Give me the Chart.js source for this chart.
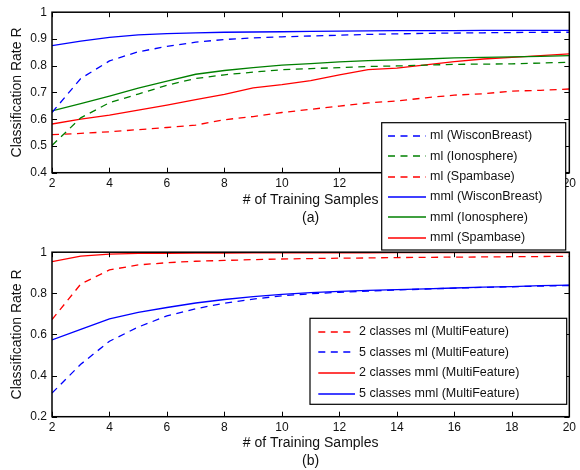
<!DOCTYPE html>
<html>
<head>
<meta charset="utf-8">
<script src="https://cdn.jsdelivr.net/npm/chart.js@4.4.1/dist/chart.umd.min.js"></script>
<style>
  html, body { margin: 0; padding: 0; background: #fff; }
  #wrap { position: relative; width: 580px; height: 470px; overflow: hidden; background: #fff; }
  #wrap canvas { position: absolute; left: 0; }
  #chartA { top: 0; z-index: 2; }
  #chartB { top: 240px; z-index: 1; }
</style>
</head>
<body>
<div id="wrap">
  <canvas id="chartB" width="580" height="230"></canvas>
  <canvas id="chartA" width="580" height="260"></canvas>
</div>
<script>
// Number of training samples (shared x values)
const samples = [2, 3, 4, 5, 6, 7, 8, 9, 10, 11, 12, 13, 14, 15, 16, 17, 18, 19, 20];

// Tick values
const xTicks = [2, 4, 6, 8, 10, 12, 14, 16, 18, 20];
const yTicksA = [0.4, 0.5, 0.6, 0.7, 0.8, 0.9, 1];
const yTicksB = [0.2, 0.4, 0.6, 0.8, 1];

// (a) classification rate per dataset
const mlWiscon   = [0.625, 0.752, 0.818, 0.852, 0.872, 0.888, 0.898, 0.904, 0.908, 0.911, 0.914, 0.917, 0.919, 0.921, 0.922, 0.923, 0.924, 0.925, 0.925];
const mlIono     = [0.502, 0.605, 0.662, 0.694, 0.727, 0.752, 0.766, 0.776, 0.785, 0.789, 0.793, 0.797, 0.799, 0.802, 0.805, 0.806, 0.807, 0.810, 0.813];
const mlSpam     = [0.542, 0.547, 0.553, 0.561, 0.569, 0.578, 0.598, 0.610, 0.625, 0.637, 0.649, 0.661, 0.668, 0.680, 0.690, 0.695, 0.705, 0.708, 0.713];
const mmlWiscon  = [0.875, 0.892, 0.906, 0.915, 0.920, 0.923, 0.925, 0.926, 0.927, 0.928, 0.929, 0.930, 0.931, 0.931, 0.931, 0.932, 0.932, 0.932, 0.932];
const mmlIono    = [0.631, 0.658, 0.686, 0.716, 0.742, 0.768, 0.782, 0.793, 0.802, 0.808, 0.814, 0.819, 0.822, 0.825, 0.829, 0.831, 0.833, 0.835, 0.838];
const mmlSpam    = [0.582, 0.600, 0.615, 0.634, 0.653, 0.673, 0.693, 0.717, 0.729, 0.744, 0.766, 0.785, 0.791, 0.803, 0.815, 0.825, 0.831, 0.838, 0.844];

// (b) MultiFeature, 2 and 5 classes
const ml2  = [0.672, 0.845, 0.914, 0.938, 0.949, 0.956, 0.960, 0.964, 0.967, 0.969, 0.971, 0.972, 0.974, 0.975, 0.976, 0.977, 0.978, 0.979, 0.980];
const ml5  = [0.315, 0.455, 0.567, 0.636, 0.690, 0.725, 0.752, 0.772, 0.788, 0.798, 0.805, 0.811, 0.816, 0.821, 0.825, 0.829, 0.832, 0.835, 0.838];
const mml2 = [0.954, 0.981, 0.991, 0.994, 0.995, 0.996, 0.996, 0.997, 0.997, 0.997, 0.997, 0.997, 0.998, 0.998, 0.998, 0.998, 0.998, 0.998, 0.998];
const mml5 = [0.573, 0.625, 0.676, 0.707, 0.731, 0.753, 0.770, 0.784, 0.795, 0.803, 0.809, 0.814, 0.818, 0.822, 0.826, 0.830, 0.833, 0.837, 0.840];

const BLUE = '#0000ff', GREEN = '#008000', RED = '#ff0000';
const DASH = [7, 5.5];
const FONT = '"Liberation Sans", Arial, Helvetica, sans-serif';

const pts = vals => samples.map((s, i) => ({ x: s, y: vals[i] }));
const series = (label, vals, color, dashed) => ({
  label, data: pts(vals),
  borderColor: color, backgroundColor: color,
  borderWidth: 1.3, borderDash: dashed ? DASH : [],
  pointRadius: 0, tension: 0, fill: false,
  legendColor: color, legendDashed: dashed
});

// Boxed axes with inward tick marks on all four sides
const framePlugin = {
  id: 'frame',
  afterDatasetsDraw(chart) {
    const { ctx, chartArea: a, scales: { x, y } } = chart;
    const len = 5;
    ctx.save();
    ctx.setLineDash([]);
    ctx.strokeStyle = '#000';
    ctx.lineWidth = 1;
    ctx.beginPath();
    x.ticks.forEach(t => {
      const px = Math.round(x.getPixelForValue(t.value)) + 0.5;
      ctx.moveTo(px, a.bottom); ctx.lineTo(px, a.bottom - len);
      ctx.moveTo(px, a.top); ctx.lineTo(px, a.top + len);
    });
    y.ticks.forEach(t => {
      const py = Math.round(y.getPixelForValue(t.value)) + 0.5;
      ctx.moveTo(a.left, py); ctx.lineTo(a.left + len, py);
      ctx.moveTo(a.right, py); ctx.lineTo(a.right - len, py);
    });
    ctx.stroke();
    ctx.lineWidth = 1.5;
    ctx.strokeRect(a.left, a.top, a.right - a.left, a.bottom - a.top);
    ctx.restore();
  }
};

// Boxed legend listing each dataset with its line style
const boxLegendPlugin = {
  id: 'boxLegend',
  afterDraw(chart, args, o) {
    const { ctx } = chart;
    ctx.save();
    ctx.setLineDash([]);
    ctx.fillStyle = '#fff';
    ctx.fillRect(o.left, o.top, o.width, o.height);
    ctx.strokeStyle = '#000';
    ctx.lineWidth = 1.2;
    ctx.strokeRect(o.left, o.top, o.width, o.height);
    ctx.font = o.fontSize + 'px ' + FONT;
    ctx.textBaseline = 'middle';
    ctx.textAlign = 'left';
    const entries = chart.data.datasets.map(ds => ({
      label: ds.label, color: ds.legendColor, dashed: ds.legendDashed
    }));
    entries.forEach((e, i) => {
      const yy = Math.round(o.top + o.first + i * o.gap);
      ctx.beginPath();
      ctx.setLineDash(e.dashed ? DASH : []);
      ctx.strokeStyle = e.color;
      ctx.lineWidth = 1.6;
      ctx.moveTo(o.left + o.lineFrom, yy);
      ctx.lineTo(o.left + o.lineTo, yy);
      ctx.stroke();
    });
    ctx.setLineDash([]);
    ctx.fillStyle = '#111';
    entries.forEach((e, i) => {
      const yy = o.top + o.first + i * o.gap;
      ctx.fillText(e.label, o.left + o.textX, yy);
    });
    ctx.restore();
  }
};

function makeOptions(yTicks, xHeight, titleLines, titlePadBottom, legendBox, padTop) {
  return {
    responsive: false,
    animation: false,
    devicePixelRatio: 1,
    layout: { padding: { top: padTop, left: 0, right: 7.3, bottom: 0 } },
    plugins: {
      legend: { display: false },
      tooltip: { enabled: false },
      boxLegend: legendBox
    },
    scales: {
      x: {
        type: 'linear', min: 2, max: 20,
        afterBuildTicks: s => { s.ticks = xTicks.map(v => ({ value: v })); },
        afterFit: s => { s.height = xHeight; },
        grid: { display: false, drawTicks: false },
        border: { display: false },
        ticks: { color: '#111', font: { family: FONT, size: 12 }, padding: 4, maxRotation: 0,
                 callback: v => String(v) },
        title: { display: true, text: titleLines, color: '#111',
                 font: { family: FONT, size: 14, lineHeight: 18 / 14 },
                 padding: { top: 0, bottom: titlePadBottom } }
      },
      y: {
        type: 'linear', min: yTicks[0], max: yTicks[yTicks.length - 1],
        afterBuildTicks: s => { s.ticks = yTicks.map(v => ({ value: v })); },
        afterFit: s => { s.width = 52; },
        grid: { display: false, drawTicks: false },
        border: { display: false },
        ticks: { color: '#111', font: { family: FONT, size: 12 }, padding: 5,
                 callback: v => String(+v.toFixed(1)) },
        title: { display: true, text: 'Classification Rate R', color: '#111',
                 font: { family: FONT, size: 14, lineHeight: 18 / 14 },
                 padding: { top: 8, bottom: 0 } }
      }
    }
  };
}

new Chart(document.getElementById('chartA'), {
  type: 'line',
  data: {
    datasets: [
      series('ml (WisconBreast)', mlWiscon, BLUE, true),
      series('ml (Ionosphere)', mlIono, GREEN, true),
      series('ml (Spambase)', mlSpam, RED, true),
      series('mml (WisconBreast)', mmlWiscon, BLUE, false),
      series('mml (Ionosphere)', mmlIono, GREEN, false),
      series('mml (Spambase)', mmlSpam, RED, false)
    ]
  },
  options: makeOptions(yTicksA, 87.3, ['# of Training Samples', '(a)'], 33,
    { left: 381.7, top: 122.7, width: 184, height: 127.3, first: 13.3, gap: 20.3,
      lineFrom: 6.3, lineTo: 44.3, textX: 48.3, fontSize: 12.5 }, 10),
  plugins: [framePlugin, boxLegendPlugin]
});

new Chart(document.getElementById('chartB'), {
  type: 'line',
  data: {
    datasets: [
      series('2 classes ml (MultiFeature)', ml2, RED, true),
      series('5 classes ml (MultiFeature)', ml5, BLUE, true),
      series('2 classes mml (MultiFeature)', mml2, RED, false),
      series('5 classes mml (MultiFeature)', mml5, BLUE, false)
    ]
  },
  options: makeOptions(yTicksB, 53.3, ['# of Training Samples', '(b)'], 0,
    { left: 310, top: 78.3, width: 256.7, height: 86, first: 13.4, gap: 20.6,
      lineFrom: 8.3, lineTo: 45, textX: 49, fontSize: 12.5 }, 9.3),
  plugins: [framePlugin, boxLegendPlugin]
});
</script>
</body>
</html>
